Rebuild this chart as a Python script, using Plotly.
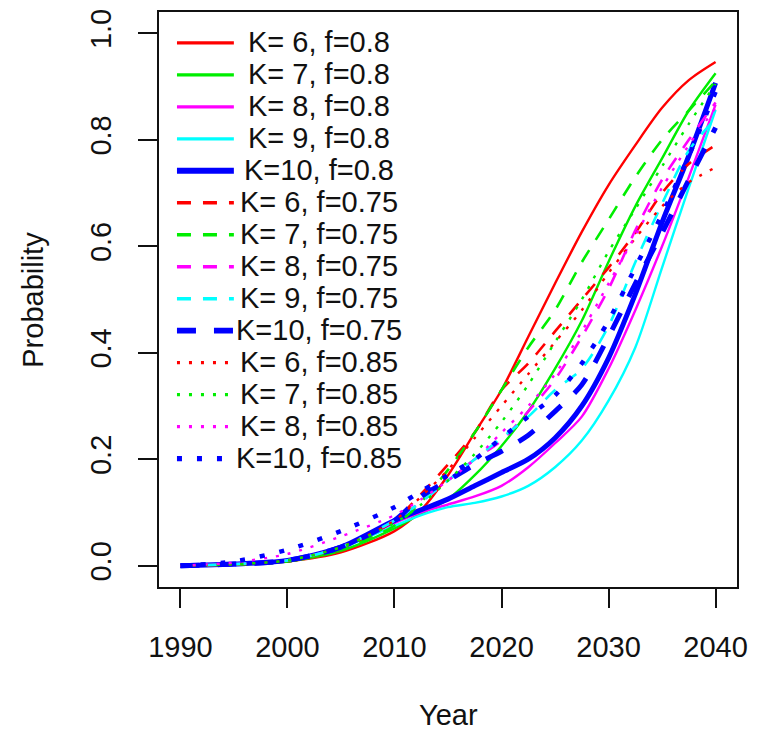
import plotly.graph_objects as go

# ---------------- data ----------------
years = [1990, 1995, 2000, 2005, 2010, 2012.5, 2015, 2017.5, 2020, 2022.5,
         2025, 2027.5, 2030, 2032.5, 2035, 2037.5, 2040]

# f = 0.8 (solid)
k6_f080 = [0, 0.002, 0.008, 0.025, 0.065, 0.105, 0.17, 0.25, 0.33, 0.43, 0.53, 0.627, 0.715, 0.79, 0.86, 0.912, 0.946]
k7_f080 = [0, 0.002, 0.008, 0.028, 0.07, 0.098, 0.125, 0.17, 0.225, 0.29, 0.37, 0.46, 0.571, 0.675, 0.765, 0.855, 0.925]
k8_f080 = [0, 0.003, 0.01, 0.035, 0.08, 0.10, 0.115, 0.13, 0.15, 0.185, 0.23, 0.28, 0.37, 0.48, 0.60, 0.73, 0.866]
k9_f080 = [0, 0.003, 0.009, 0.033, 0.075, 0.095, 0.11, 0.118, 0.13, 0.15, 0.185, 0.235, 0.31, 0.41, 0.56, 0.71, 0.856]
k10_f080 = [0, 0.003, 0.01, 0.035, 0.085, 0.105, 0.125, 0.15, 0.175, 0.20, 0.24, 0.30, 0.39, 0.51, 0.645, 0.77, 0.907]

# f = 0.75 (dashed)
k6_f075 = [0, 0.002, 0.008, 0.03, 0.085, 0.135, 0.19, 0.25, 0.33, 0.38, 0.44, 0.50, 0.56, 0.625, 0.70, 0.755, 0.79]
k7_f075 = [0, 0.002, 0.008, 0.03, 0.075, 0.12, 0.18, 0.25, 0.33, 0.41, 0.48, 0.57, 0.65, 0.73, 0.80, 0.855, 0.91]
k8_f075 = [0, 0.003, 0.01, 0.035, 0.085, 0.12, 0.16, 0.20, 0.235, 0.29, 0.35, 0.43, 0.52, 0.63, 0.725, 0.80, 0.87]
k9_f075 = [0, 0.003, 0.01, 0.035, 0.085, 0.12, 0.16, 0.20, 0.24, 0.28, 0.33, 0.37, 0.45, 0.57, 0.68, 0.78, 0.84]
k10_f075 = [0, 0.003, 0.01, 0.035, 0.085, 0.13, 0.16, 0.19, 0.215, 0.245, 0.29, 0.34, 0.43, 0.53, 0.625, 0.725, 0.823]

# f = 0.85 (dotted)
k6_f085 = [0, 0.003, 0.01, 0.035, 0.085, 0.13, 0.18, 0.24, 0.30, 0.36, 0.42, 0.48, 0.55, 0.615, 0.675, 0.72, 0.748]
k7_f085 = [0, 0.003, 0.01, 0.035, 0.08, 0.115, 0.16, 0.21, 0.27, 0.34, 0.42, 0.50, 0.59, 0.67, 0.75, 0.83, 0.905]
k8_f085 = [0, 0.006, 0.022, 0.055, 0.095, 0.125, 0.16, 0.20, 0.25, 0.30, 0.36, 0.44, 0.53, 0.62, 0.71, 0.79, 0.86]
k10_f085 = [0, 0.008, 0.03, 0.065, 0.11, 0.14, 0.17, 0.20, 0.24, 0.28, 0.32, 0.38, 0.46, 0.56, 0.66, 0.77, 0.89]

legend_labels = ["K= 6, f=0.8", "K= 7, f=0.8", "K= 8, f=0.8", "K= 9, f=0.8", "K=10, f=0.8",
                 "K= 6, f=0.75", "K= 7, f=0.75", "K= 8, f=0.75", "K= 9, f=0.75", "K=10, f=0.75",
                 "K= 6, f=0.85", "K= 7, f=0.85", "K= 8, f=0.85", "K=10, f=0.85"]
series_values = [k6_f080, k7_f080, k8_f080, k9_f080, k10_f080,
                 k6_f075, k7_f075, k8_f075, k9_f075, k10_f075,
                 k6_f085, k7_f085, k8_f085, k10_f085]

x_ticks = [1990, 2000, 2010, 2020, 2030, 2040]
y_ticks = [0.0, 0.2, 0.4, 0.6, 0.8, 1.0]
x_title = "Year"
y_title = "Probability"

# ---------------- styles ----------------
RED, GREEN, MAG, CYAN, BLUE = "#ff0000", "#00ee00", "#ff00ff", "#00ffff", "#0000ff"
colors = [RED, GREEN, MAG, CYAN, BLUE,
          RED, GREEN, MAG, CYAN, BLUE,
          RED, GREEN, MAG, BLUE]
DASH = "14px,12px"
DASH_THICK = "19px,18px"
DOT = "3px,9px"
DOT_THICK = "5px,15px"
dashes = ["solid"] * 4 + ["solid"] + [DASH] * 4 + [DASH_THICK] + [DOT] * 3 + [DOT_THICK]
widths = [2.4, 2.4, 2.4, 2.4, 5,
          2.6, 2.6, 2.6, 2.6, 5,
          2.4, 2.4, 2.4, 4.5]

W, H = 757, 733
BOX_L, BOX_R, BOX_T, BOX_B = 159, 738, 9, 587   # plot box in page pixels
ML, MT, MR, MB = BOX_L, BOX_T, W - BOX_R, H - BOX_B
PW, PH = BOX_R - BOX_L, BOX_B - BOX_T


def px_x(px):
    return (px - BOX_L) / PW


def px_y(py):
    return (BOX_B - py) / PH


FONT = "Liberation Sans, Arial, sans-serif"
FS = 29

fig = go.Figure()
for vals, name, c, d, w in zip(series_values, legend_labels, colors, dashes, widths):
    fig.add_trace(go.Scatter(
        x=years, y=vals, mode="lines", name=name,
        line=dict(color=c, dash=d, width=w, shape="spline", smoothing=0.8),
        showlegend=False, hoverinfo="skip"))

# custom legend (R style, no box)
shapes = []
annotations = []
row0, row_step = 40, 32.15
for i, (name, c, d, w) in enumerate(zip(legend_labels, colors, dashes, widths)):
    ry = row0 + i * row_step
    shapes.append(dict(type="line", xref="paper", yref="paper",
                       x0=px_x(177), x1=px_x(234), y0=px_y(ry), y1=px_y(ry),
                       line=dict(color=c, dash=d, width=w + 0.8)))
    annotations.append(dict(text=name, xref="paper", yref="paper",
                            x=px_x(319), y=px_y(ry - 1), xanchor="center", yanchor="middle",
                            showarrow=False, font=dict(family=FONT, size=FS, color="#111")))

annotations.append(dict(text=x_title, xref="paper", yref="paper", x=0.5, y=px_y(716),
                        xanchor="center", yanchor="middle", showarrow=False,
                        font=dict(family=FONT, size=FS, color="#111")))
annotations.append(dict(text=y_title, xref="paper", yref="paper", x=px_x(32), y=0.5,
                        xanchor="center", yanchor="middle", textangle=-90, showarrow=False,
                        font=dict(family=FONT, size=FS, color="#111")))

axis_common = dict(showgrid=False, zeroline=False, showline=True, mirror=True,
                   linecolor="#111", linewidth=1.8, ticks="outside", ticklen=19,
                   tickwidth=1.6, tickcolor="#111", ticklabeloverflow="allow",
                   tickfont=dict(family=FONT, size=FS, color="#111"))

fig.update_layout(
    width=W, height=H,
    margin=dict(l=ML, r=MR, t=MT, b=MB, pad=0),
    paper_bgcolor="white", plot_bgcolor="white",
    xaxis=dict(range=[1988, 2042], tickvals=x_ticks, ticktext=[str(t) for t in x_ticks],
               ticklabelstandoff=14, **axis_common),
    yaxis=dict(range=[-0.04, 1.04], tickvals=y_ticks, ticktext=[f"{t:.1f}" for t in y_ticks],
               tickangle=-90, ticklabelstandoff=16, **axis_common),
    shapes=shapes, annotations=annotations, showlegend=False,
)

fig.write_html("out.html", config={"displayModeBar": False},
               post_script="document.body.style.margin='0px';document.body.style.overflow='hidden';")
